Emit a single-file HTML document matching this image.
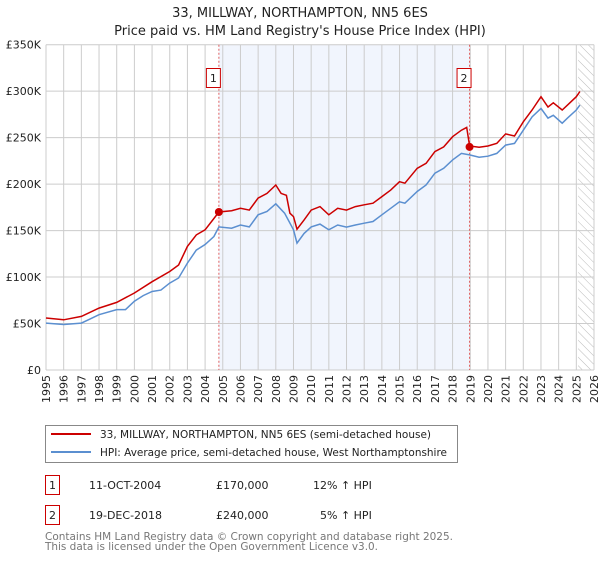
<!DOCTYPE html>
<html><head><meta charset="utf-8"><style>
body{margin:0;background:#fff;font-family:"Liberation Sans","DejaVu Sans",sans-serif;}
svg text{font-family:"DejaVu Sans","Liberation Sans",sans-serif;}
</style></head><body>
<svg width="600" height="560" viewBox="0 0 600 560" xmlns="http://www.w3.org/2000/svg">
<defs><pattern id="hatch" width="6" height="6" patternUnits="userSpaceOnUse" patternTransform="rotate(-45)"><line x1="0" y1="0" x2="0" y2="6" stroke="#bbb" stroke-width="1"/></pattern></defs>
<text x="300" y="17" text-anchor="middle" font-size="13" fill="#222">33, MILLWAY, NORTHAMPTON, NN5 6ES</text>
<text x="300" y="35" text-anchor="middle" font-size="13" fill="#222">Price paid vs. HM Land Registry's House Price Index (HPI)</text>
<g id="plot"></g>
<g>
<rect x="45.5" y="425.5" width="412" height="37" fill="#fff" stroke="#888"/>
<line x1="51" y1="434" x2="91" y2="434" stroke="#cc0000" stroke-width="2"/>
<text x="100" y="438" font-size="10.5" fill="#222" textLength="331" lengthAdjust="spacingAndGlyphs">33, MILLWAY, NORTHAMPTON, NN5 6ES (semi-detached house)</text>
<line x1="51" y1="452" x2="91" y2="452" stroke="#5b8fd0" stroke-width="2"/>
<text x="100" y="456" font-size="10.5" fill="#222" textLength="347" lengthAdjust="spacingAndGlyphs">HPI: Average price, semi-detached house, West Northamptonshire</text>
</g>
<g font-size="11" fill="#222">
<rect x="45.5" y="475.5" width="14" height="19" fill="#fff" stroke="#cc0000"/><text x="52.5" y="489" text-anchor="middle">1</text>
<text x="89" y="489">11-OCT-2004</text><text x="216" y="489">£170,000</text><text x="313" y="489">12% ↑ HPI</text>
<rect x="45.5" y="505.5" width="14" height="19" fill="#fff" stroke="#cc0000"/><text x="52.5" y="519" text-anchor="middle">2</text>
<text x="89" y="519">19-DEC-2018</text><text x="216" y="519">£240,000</text><text x="320" y="519">5% ↑ HPI</text>
</g>
<text x="45" y="540" font-size="10.5" fill="#777" textLength="408" lengthAdjust="spacingAndGlyphs">Contains HM Land Registry data © Crown copyright and database right 2025.</text>
<text x="45" y="550" font-size="10.5" fill="#777" textLength="333" lengthAdjust="spacingAndGlyphs">This data is licensed under the Open Government Licence v3.0.</text>
</svg>
<script>
const hpiYears=[1995,1996,1997,1997.5,1998,1999,1999.5,2000,2000.5,2001,2001.5,2002,2002.5,2003,2003.5,2004,2004.5,2004.78,2005.5,2006,2006.5,2007,2007.5,2008,2008.5,2009,2009.2,2009.6,2010,2010.5,2011,2011.5,2012,2012.5,2013,2013.5,2014,2014.5,2015,2015.3,2016,2016.5,2017,2017.5,2018,2018.5,2018.96,2019.5,2020,2020.5,2021,2021.5,2022,2022.5,2023,2023.4,2023.7,2024.2,2024.5,2025,2025.2];
const hpiValues=[50.5,49,50.5,55,59.5,65,65,74,80,84.5,86,93.5,99,115,129,135,143.6,154,152.6,156,154,167,170.5,178.8,168.7,150.8,136.5,147,154,157,150.8,156,153.7,156,158,159.8,167,174,181,179.5,192,199,211.7,217,226,233,231.4,229,230,233,242,243.8,258,272.4,281.5,271,274,265.5,271,279.7,285];
const priceYears=[1995,1996,1997,1998,1999,2000,2001,2002,2002.5,2003,2003.5,2004,2004.5,2004.78,2005.5,2006,2006.5,2007,2007.5,2008,2008.3,2008.6,2008.8,2009,2009.2,2009.6,2010,2010.5,2011,2011.5,2012,2012.5,2013,2013.5,2014,2014.5,2015,2015.3,2016,2016.5,2017,2017.5,2018,2018.5,2018.8,2018.96,2019.5,2020,2020.5,2021,2021.5,2022,2022.5,2023,2023.4,2023.7,2024.2,2024.5,2025,2025.2];
const priceValues=[56,54,57.7,66.6,72.7,82.8,95,106,113,133,145.4,150.8,163,170,171.4,174,172,184.9,190,199,190,188,168.7,165,151.5,161.5,172,175.8,167,174,172,175.8,177.7,179.5,186.6,193.6,202.6,201,217,222.4,235,240,251,258,261,241,239.6,241,243.8,254,251.8,267,279.7,294,283,287.5,279.7,285,294,299.6];
const saleYears=[2004.78,2018.96];
const saleValues=[170,240];
const saleLabels=["1","2"];
const yTicks=[0,50,100,150,200,250,300,350];
const yTickLabels=["£0","£50K","£100K","£150K","£200K","£250K","£300K","£350K"];
const xTicks=[1995,1996,1997,1998,1999,2000,2001,2002,2003,2004,2005,2006,2007,2008,2009,2010,2011,2012,2013,2014,2015,2016,2017,2018,2019,2020,2021,2022,2023,2024,2025,2026];

const X0=46,X1=594,Y0=370,Y1=44.7;
const xs=v=>X0+(v-1995)/(2026-1995)*(X1-X0);
const ys=v=>Y0-v/350*(Y0-Y1);
const NS="http://www.w3.org/2000/svg";
const plot=document.getElementById('plot');
function mk(t,a,p){const e=document.createElementNS(NS,t);for(const k in a)e.setAttribute(k,a[k]);(p||plot).appendChild(e);return e;}
let e;
e=mk('rect',{x:xs(saleYears[0]),y:Y1,width:xs(saleYears[1])-xs(saleYears[0]),height:Y0-Y1,fill:'#eef3fc',opacity:0.8});


e=mk('rect',{x:xs(2025.1),y:Y1,width:X1-xs(2025.1),height:Y0-Y1,fill:'url(#hatch)'});


yTicks.forEach((v,i)=>{
 e=mk('line',{x1:X0,x2:X1,y1:ys(v),y2:ys(v),stroke:'#ccc','stroke-width':1});
 
 
 e=mk('text',{x:X0-5,y:ys(v)+4,'text-anchor':'end','font-size':11,fill:'#222'});
 e.textContent=yTickLabels[i];
 
 
});
xTicks.forEach(v=>{
 e=mk('line',{x1:xs(v),x2:xs(v),y1:Y1,y2:Y0,stroke:'#ccc','stroke-width':1});
 
 
 e=mk('text',{x:0,y:0,'text-anchor':'end','font-size':11,fill:'#222',transform:`translate(${xs(v)+4},${Y0+5}) rotate(-90)`});
 e.textContent=v;
 
 
});
saleYears.forEach((v,i)=>{
 e=mk('line',{x1:xs(v),x2:xs(v),y1:Y1,y2:Y0,stroke:'#e06060','stroke-width':1,'stroke-dasharray':'2,2'});
 
 
});
function path(xa,ya,col,name){
 const d=xa.map((x,i)=>(i?'L':'M')+xs(x).toFixed(1)+','+ys(ya[i]).toFixed(1)).join('');
 e=mk('path',{d:d,fill:'none',stroke:col,'stroke-width':1.5});
 
 
}
path(hpiYears,hpiValues,'#5b8fd0','hpi-line');
path(priceYears,priceValues,'#cc0000','price-line');
saleYears.forEach((v,i)=>{
 e=mk('circle',{cx:xs(v),cy:ys(saleValues[i]),r:4,fill:'#cc0000'});
 
 
 e=mk('rect',{x:xs(v)-12.5,y:68.5,width:14,height:19,fill:'#fff',stroke:'#cc0000'});
 
 
 e=mk('text',{x:xs(v)-5.5,y:82,'text-anchor':'middle','font-size':11,fill:'#222'});
 e.textContent=saleLabels[i];
 
 
});
</script>
</body></html>
